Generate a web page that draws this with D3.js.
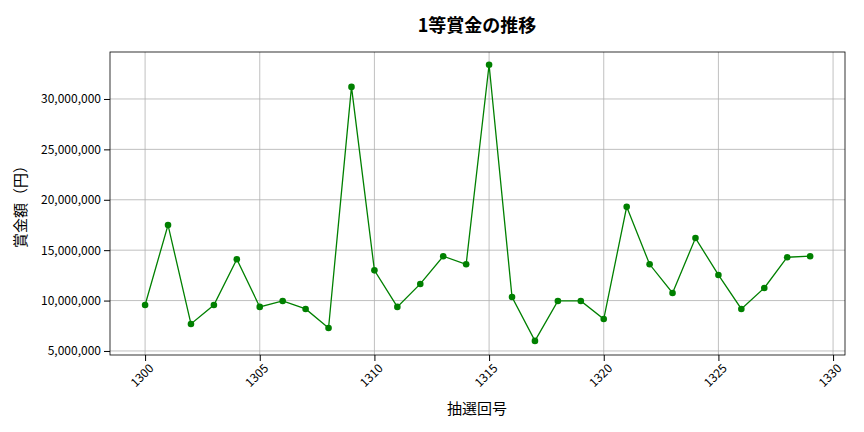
<!DOCTYPE html>
<html><head><meta charset="utf-8">
<script src="https://cdn.jsdelivr.net/npm/d3@7"></script>
<style>body{margin:0;background:#fff}text{font-family:"Noto Sans CJK JP","Noto Sans",sans-serif}</style>
</head><body><svg id="c" width="864" height="432"></svg>
<script>
const draws=[1300,1301,1302,1303,1304,1305,1306,1307,1308,1309,1310,1311,1312,1313,1314,1315,1316,1317,1318,1319,1320,1321,1322,1323,1324,1325,1326,1327,1328,1329];
const prizes=[9560000,17500000,7680000,9560000,14100000,9370000,9960000,9170000,7280000,31200000,13000000,9370000,11650000,14400000,13600000,33400000,10360000,6000000,9960000,9960000,8170000,19300000,13600000,10750000,16200000,12540000,9170000,11250000,14300000,14400000];
const xTicks=[1300,1305,1310,1315,1320,1325,1330];
const yTicks=[5000000,10000000,15000000,20000000,25000000,30000000];
const svg=d3.select("#c");
const L=110,R=845,T=52,B=355;
const x=d3.scaleLinear().domain([1298.47,1330.52]).range([L,R]);
const y=d3.scaleLinear().domain([4600000,34660000]).range([B,T]);
const g=svg.append("g");
g.selectAll(".gx").data(xTicks).join("line").attr("x1",d=>x(d)).attr("x2",d=>x(d)).attr("y1",T).attr("y2",B).attr("stroke","#b0b0b0").attr("stroke-width",0.8);
g.selectAll(".gy").data(yTicks).join("line").attr("y1",d=>y(d)).attr("y2",d=>y(d)).attr("x1",L).attr("x2",R).attr("stroke","#b0b0b0").attr("stroke-width",0.8);
const xa=svg.append("g").attr("transform",`translate(0,${B})`).call(d3.axisBottom(x).tickValues(xTicks).tickFormat(d3.format("d")).tickSizeOuter(0));
xa.selectAll("text").attr("transform","rotate(-45)").style("text-anchor","end").attr("dx","-0.3em").attr("dy","0.6em").attr("font-size",12).attr("fill","#000");
const ya=svg.append("g").attr("transform",`translate(${L},0)`).call(d3.axisLeft(y).tickValues(yTicks).tickFormat(d3.format(",")).tickSizeOuter(0));
ya.selectAll("text").attr("font-size",12).attr("fill","#000");
svg.selectAll(".domain").remove();
svg.append("rect").attr("x",L).attr("y",T).attr("width",R-L).attr("height",B-T).attr("fill","none").attr("stroke","#000").attr("stroke-width",0.8);
svg.append("path").datum(draws.map((d,i)=>[d,prizes[i]])).attr("d",d3.line().x(d=>x(d[0])).y(d=>y(d[1]))).attr("fill","none").attr("stroke","green").attr("stroke-width",1.3);
svg.selectAll(".pt").data(draws).join("circle").attr("cx",d=>x(d)).attr("cy",(d,i)=>y(prizes[i])).attr("r",3.3).attr("fill","green");
svg.append("text").attr("x",477).attr("y",32).attr("text-anchor","middle").attr("font-size",18).attr("font-weight","bold").text("1等賞金の推移");
svg.append("text").attr("x",477).attr("y",414).attr("text-anchor","middle").attr("font-size",15).text("抽選回号");
svg.append("text").attr("transform","translate(26,203) rotate(-90)").attr("text-anchor","middle").attr("font-size",15).text("賞金額（円）");
</script></body></html>
